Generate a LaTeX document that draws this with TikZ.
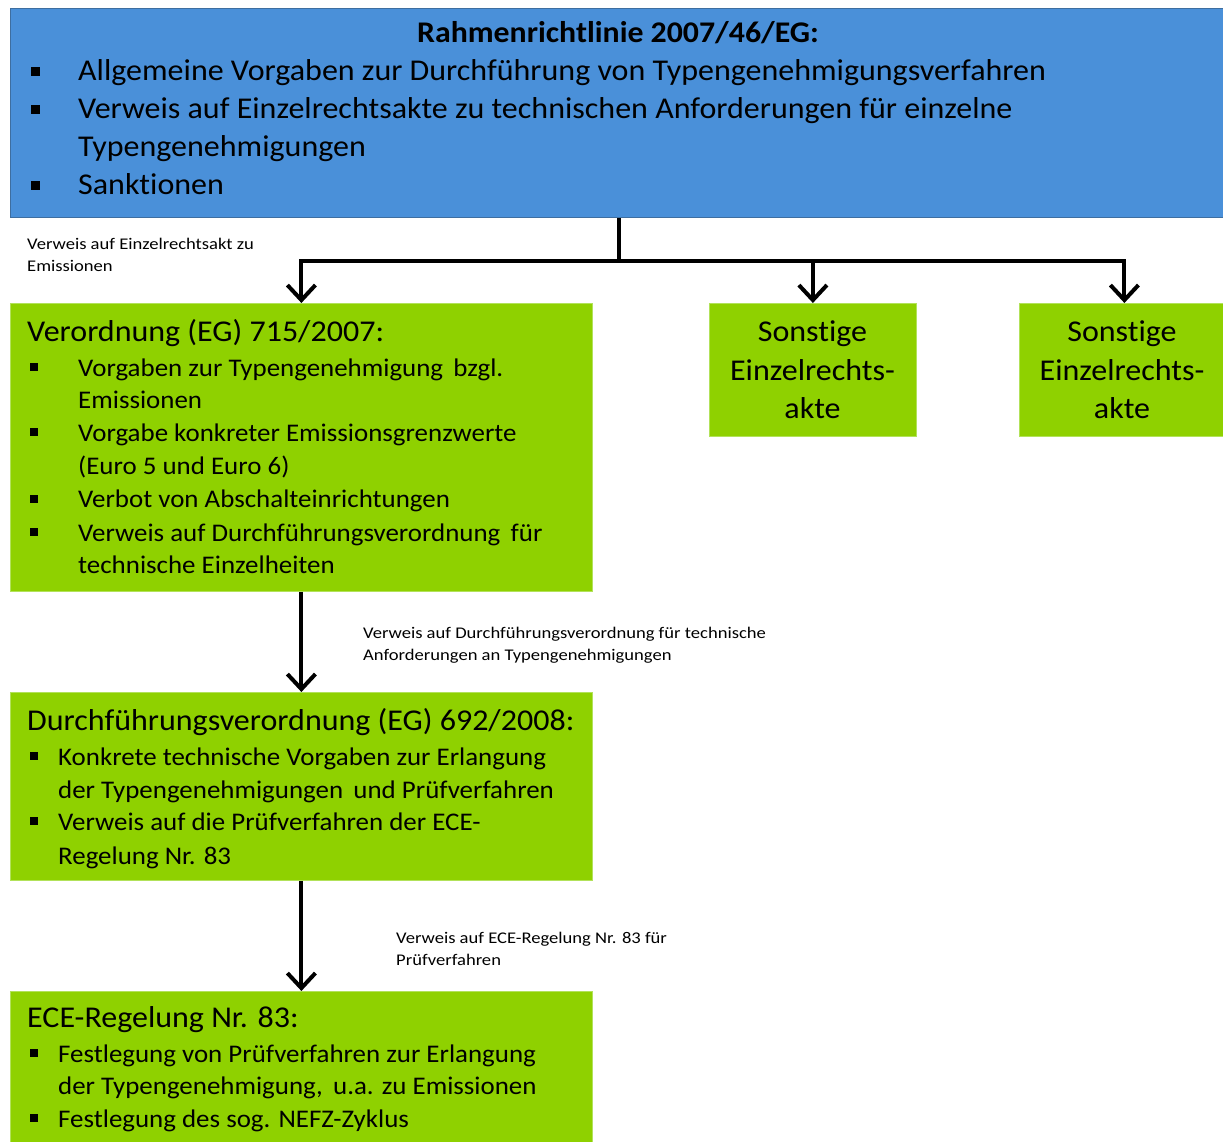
\documentclass[tikz,border=0pt]{standalone}
\usepackage{fontspec}
\setmainfont{Carlito}[FakeStretch=1.06, Ligatures=NoCommon]
\newfontfamily\lblfont{Carlito}[FakeStretch=1.14, Ligatures=NoCommon]
\usetikzlibrary{arrows.meta}
\definecolor{rlblue}{RGB}{74,144,217}
\definecolor{rlblueline}{RGB}{62,110,160}
\definecolor{evgreen}{RGB}{143,209,0}
\definecolor{evgreenline}{RGB}{178,226,90}
\begin{document}
\begin{tikzpicture}[x=1pt,y=-1pt,
  bluebox/.style={draw=rlblueline, line width=0.8pt, fill=rlblue, anchor=north west, inner sep=0pt},
  greenbox/.style={draw=evgreenline, line width=0.8pt, fill=evgreen, anchor=north west, inner sep=0pt},
  bigtxt/.style={font=\fontsize{30.2}{38}\selectfont, anchor=base west, inner sep=0pt},
  bigc/.style={font=\fontsize{30.2}{38}\selectfont, anchor=base, inner sep=0pt},
  midtxt/.style={font=\fontsize{25.4}{32}\selectfont, anchor=base west, inner sep=0pt},
  smalltxt/.style={font=\lblfont\fontsize{16.3}{22}\selectfont, anchor=base west, inner sep=0pt},
  conn/.style={line width=4pt},
  arr/.style={conn, -{Straight Barb[length=15pt, width=28pt]}}
]
\useasboundingbox (0,0) rectangle (1223,1142);
% boxes
\node[bluebox, minimum width=1215pt, minimum height=209pt] (rl) at (10,8) {};
\node[greenbox, minimum width=582pt, minimum height=288pt] (vo) at (10,303) {};
\node[greenbox, minimum width=207pt, minimum height=133pt] (s1) at (709,303) {};
\node[greenbox, minimum width=206pt, minimum height=133pt] (s2) at (1019,303) {};
\node[greenbox, minimum width=582pt, minimum height=188pt] (dv) at (10,692) {};
\node[greenbox, minimum width=582pt, minimum height=155pt] (ece) at (10,991) {};

% top box text
\node[font=\bfseries\fontsize{30}{34}\selectfont, anchor=base, inner sep=0pt] (rlt) at (618,43) {Rahmenrichtlinie 2007/46/EG:};
\node[bigtxt] (rl1) at (78,81) {Allgemeine Vorgaben zur Durchführung von Typengenehmigungsverfahren};
\node[bigtxt] (rl2) at (78,119) {Verweis auf Einzelrechtsakte zu technischen Anforderungen für einzelne};
\node[bigtxt] (rl3) at (78,157) {Typengenehmigungen};
\node[bigtxt] (rl4) at (78,195) {Sanktionen};
\foreach \yy in {72,110,186} \fill (30.5,\yy-4.5) rectangle ++(9,9);

% Verordnung box
\node[bigtxt] (vot) at (27,341) {Verordnung (EG) 715/2007:};
\node[midtxt] (vo1) at (78,376) {Vorgaben zur Typengenehmigung\, bzgl.};
\node[midtxt] (vo2) at (78,408) {Emissionen};
\node[midtxt] (vo3) at (78,441) {Vorgabe konkreter Emissionsgrenzwerte};
\node[midtxt] (vo4) at (78,474) {(Euro 5 und Euro 6)};
\node[midtxt] (vo5) at (78,507) {Verbot von Abschalteinrichtungen};
\node[midtxt] (vo6) at (78,541) {Verweis auf Durchführungsverordnung\, für};
\node[midtxt] (vo7) at (78,573) {technische Einzelheiten};
\foreach \yy in {367,432,499,532} \fill (29.5,\yy-4) rectangle ++(8,8);

% Sonstige boxes
\node[bigc] (s1a) at (812.5,341) {Sonstige};
\node[bigc] (s1b) at (812.5,380) {Einzelrechts-};
\node[bigc] (s1c) at (812.5,418) {akte};
\node[bigc] (s2a) at (1122,341) {Sonstige};
\node[bigc] (s2b) at (1122,380) {Einzelrechts-};
\node[bigc] (s2c) at (1122,418) {akte};

% Durchfuehrungsverordnung box
\node[bigtxt] (dvt) at (27,730) {Durchführungsverordnung (EG) 692/2008:};
\node[midtxt] (dv1) at (58,765) {Konkrete technische Vorgaben zur Erlangung};
\node[midtxt] (dv2) at (58,798) {der Typengenehmigungen\, und Prüfverfahren};
\node[midtxt] (dv3) at (58,830) {Verweis auf die Prüfverfahren der ECE-};
\node[midtxt] (dv4) at (58,864) {Regelung Nr. 83};
\foreach \yy in {756,821} \fill (29.5,\yy-4) rectangle ++(8,8);

% ECE box
\node[bigtxt] (ecet) at (27,1027) {ECE-Regelung Nr. 83:};
\node[midtxt] (ece1) at (58,1062) {Festlegung von Prüfverfahren zur Erlangung};
\node[midtxt] (ece2) at (58,1094) {der Typengenehmigung,\, u.a. zu Emissionen};
\node[midtxt] (ece3) at (58,1127) {Festlegung des sog. NEFZ-Zyklus};
\foreach \yy in {1053,1118} \fill (29.5,\yy-4) rectangle ++(8,8);

% labels
\node[smalltxt] (l1a) at (27,249) {Verweis auf Einzelrechtsakt zu};
\node[smalltxt] (l1b) at (27,271) {Emissionen};
\node[smalltxt] (l2a) at (363,638) {Verweis auf Durchführungsverordnung für technische};
\node[smalltxt] (l2b) at (363,660) {Anforderungen an Typengenehmigungen};
\node[smalltxt] (l3a) at (396,943) {Verweis auf ECE-Regelung Nr. 83 für};
\node[smalltxt] (l3b) at (396,965) {Prüfverfahren};

% connectors
\coordinate (j) at (619,261);
\draw[conn] (rl.south -| j) -- (j);
\draw[arr] (j) -| (vo.north);
\draw[arr] (j) -| (s1.north);
\draw[arr] (j) -| ([xshift=2pt]s2.north);
\draw[arr] (vo.south) -- (dv.north);
\draw[arr] (dv.south) -- (ece.north);
\end{tikzpicture}
\end{document}
